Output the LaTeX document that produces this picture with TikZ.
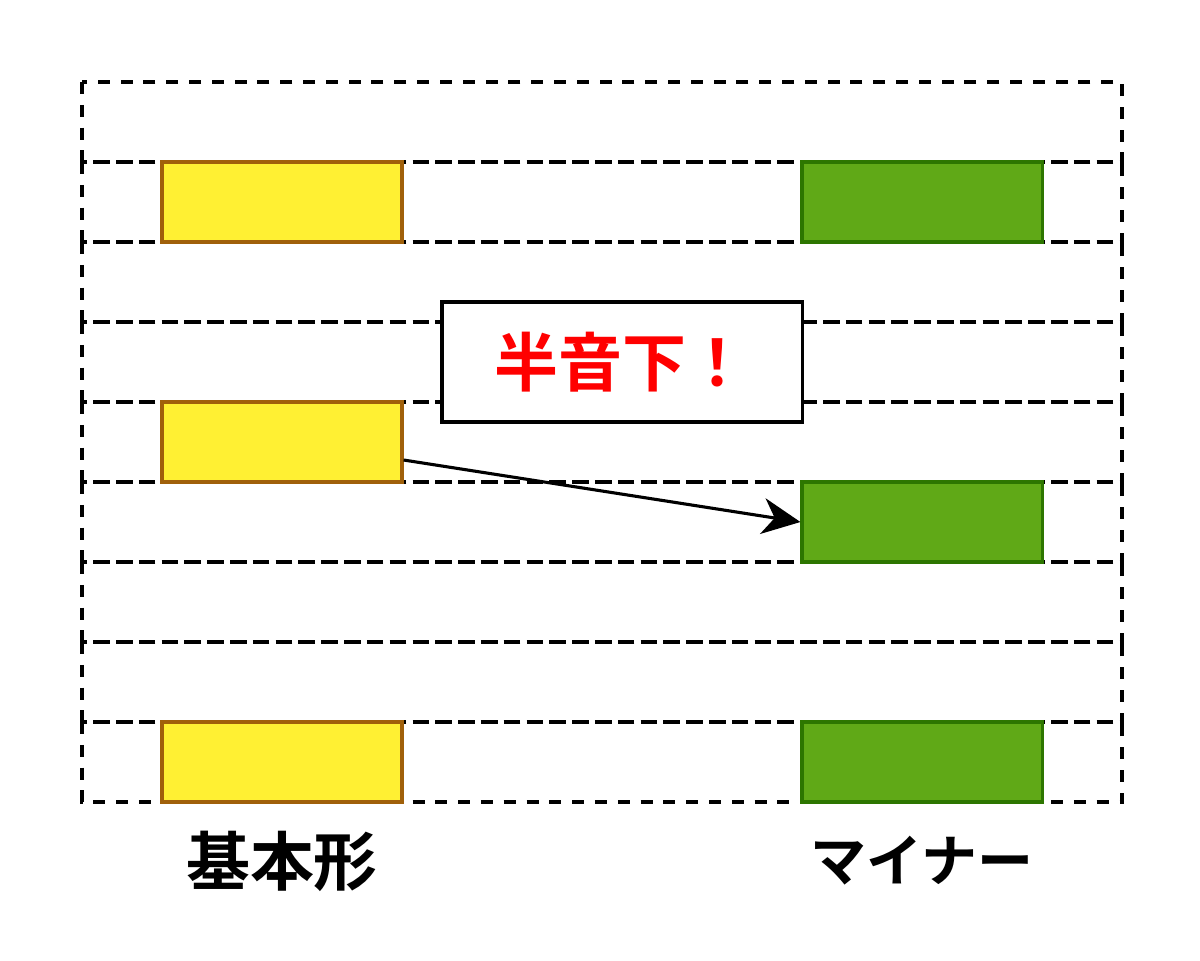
\documentclass[tikz,border=0pt]{standalone}
\usepackage{fontspec}
\newfontfamily\jpfont{Noto Sans CJK JP}[BoldFont={Noto Sans CJK JP Bold}]
\usepackage{xcolor}
\usepackage{tikz}
\usetikzlibrary{arrows.meta}
\usetikzlibrary{positioning}
\definecolor{basefill}{HTML}{FFF033}
\definecolor{basedraw}{HTML}{A0600A}
\definecolor{minorfill}{HTML}{60A917}
\definecolor{minordraw}{HTML}{2D7600}
\tikzstyle{lanebox}=[draw=black, line width=2.2pt, dash pattern=on 0.3cm off 0.27cm]
\tikzstyle{basenode}=[draw=basedraw, fill=basefill, line width=2.2pt, shape=rectangle, minimum width=6cm, minimum height=2cm, inner sep=0pt]
\tikzstyle{minornode}=[draw=minordraw, fill=minorfill, line width=2.2pt, shape=rectangle, minimum width=6cm, minimum height=2cm, inner sep=0pt]
\tikzstyle{notenode}=[draw=black, fill=white, line width=2.2pt, shape=rectangle, minimum width=9cm, minimum height=3cm, inner sep=0pt, text=red, font=\jpfont\bfseries\fontsize{45.5}{50}\selectfont]
\tikzstyle{labelnode}=[black, inner sep=0pt, font=\jpfont\bfseries]

\begin{document}
\begin{tikzpicture}[x=0.025cm, y=-0.025cm]
\useasboundingbox (0,0) rectangle (1200,960);
\foreach \k in {0,...,8}
  \draw[lanebox] (82,82+80*\k) rectangle (1122,162+80*\k);

\node [basenode] (base1) at (282,202) {};
\node [basenode] (base2) at (282,442) {};
\node [basenode] (base3) at (282,762) {};
\node [minornode] (minor1) at (922,202) {};
\node [minornode] (minor2) at (922,522) {};
\node [minornode] (minor3) at (922,762) {};
\node [notenode] (note) at (622,362) {半音下！};
\node [labelnode, font=\jpfont\bfseries\fontsize{45.5}{50}\selectfont] (baselabel) at (282,861) {基本形};
\node [labelnode, font=\jpfont\bfseries\fontsize{39.8}{44}\selectfont] (minorlabel) at (922,861) {マイナー};

\coordinate (start) at ([yshift=-0.45cm]base2.east);
\draw[-{Stealth[length=0.95cm, width=0.9cm, inset=0.3cm]}, line width=2.2pt, color=black] (start) -- (minor2.west);
\end{tikzpicture}
\end{document}
